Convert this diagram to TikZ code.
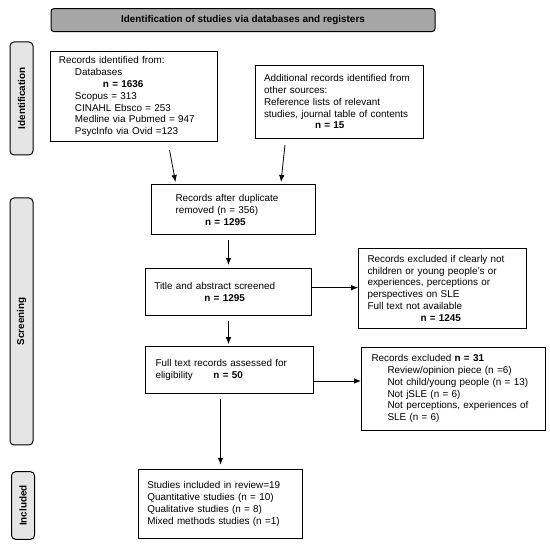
\documentclass[tikz,border=0pt]{standalone}
\usepackage{fontspec}
\setmainfont{Liberation Sans}
\usetikzlibrary{arrows.meta}
\begin{document}
\begin{tikzpicture}[x=1pt,y=-1pt,
        font=\fontsize{9.9}{11.8}\selectfont,
        box/.style={draw,line width=1pt,align=left,inner ysep=0pt},
        phase/.style={draw,line width=1pt,rounded corners=4pt,fill=black!10,rotate=90,
                font=\fontsize{9.9}{11.8}\selectfont\bfseries,minimum height=23pt,inner sep=0pt},
        arr/.style={-{Latex[length=7pt,width=5.5pt]},line width=0.8pt}]
        \useasboundingbox (0,0) rectangle (550,548);
        \node[draw,line width=1pt,rounded corners=3pt,fill=black!35,minimum width=384pt,minimum height=23pt,
                font=\fontsize{9.9}{11.8}\selectfont\bfseries] (title) at (243,20.1)
                {Identification of studies via databases and registers};
        \node[phase,minimum width=113pt] (ident) at (21.5,98.5) {Identification};
        \node[phase,minimum width=247pt] (screen) at (21.5,321.5) {Screening};
        \node[phase,minimum width=67.6pt] (incl) at (23,505.5) {Included};
        \node[box,inner xsep=9pt,text width=149pt,minimum height=90pt] (recdb) at (133.5,96.7)
                {Records identified from:\\
                \hspace*{16pt}Databases\\
                \hspace*{44pt}\textbf{n = 1636}\\
                \hspace*{16pt}Scopus = 313\\
                \hspace*{16pt}CINAHL Ebsco = 253\\
                \hspace*{16pt}Medline via Pubmed = 947\\
                \hspace*{16pt}PsycInfo via Ovid =123};
        \node[box,inner xsep=9pt,text width=150pt,minimum height=73.3pt] (recother) at (339,101.7)
                {Additional records identified from\\
                other sources:\\
                Reference lists of relevant\\
                studies, journal table of contents\\
                \hspace*{51pt}\textbf{n = 15}\\[2pt]};
        \node[box,inner xsep=24.4pt,text width=116pt,minimum height=50pt] (dedup) at (233.5,210)
                {Records after duplicate\\
                removed (n = 356)\\
                \hspace*{29.6pt}\textbf{n = 1295}\\[2pt]};
        \node[box,inner xsep=9pt,text width=148.3pt,minimum height=46.7pt] (screened) at (228.5,291.7)
                {Title and abstract screened\\
                \hspace*{50pt}\textbf{n = 1295}\\[10pt]};
        \node[box,inner xsep=8.8pt,text width=150pt,minimum height=80pt] (excla) at (442.5,288.3)
                {Records excluded if clearly not\\
                children or young people's or\\
                experiences, perceptions or\\
                perspectives on SLE\\
                Full text not available\\
                \hspace*{53pt}\textbf{n = 1245}};
        \node[box,inner xsep=9.8pt,text width=148pt,minimum height=47.3pt] (fulltext) at (229.5,370.3)
                {Full text records assessed for\\
                \makebox[58pt][l]{eligibility}\textbf{n = 50}};
        \node[box,inner xsep=10pt,text width=163.5pt,minimum height=82.7pt] (exclb) at (453.3,388.7)
                {Records excluded \textbf{n = 31}\\
                \hspace*{16pt}Review/opinion piece (n =6)\\
                \hspace*{16pt}Not child/young people (n = 13)\\
                \hspace*{16pt}Not jSLE (n = 6)\\
                \hspace*{16pt}Not perceptions, experiences of\\
                \hspace*{16pt}SLE (n = 6)};
        \node[box,inner xsep=8.8pt,text width=146.4pt,minimum height=69pt] (studies) at (220.5,503.8)
                {Studies included in review=19\\
                Quantitative studies (n = 10)\\
                Qualitative studies (n = 8)\\
                Mixed methods studies (n =1)};
        \coordinate (dbs) at (169.5,150);
        \coordinate (dbe) at (175.5,182);
        \coordinate (ots) at (285,145);
        \coordinate (ote) at (281,182);
        \draw[arr] (dbs) -- (dbe);
        \draw[arr] (ots) -- (ote);
        \draw[arr,shorten <=5pt,shorten >=3pt] (dedup.south -| screened.north) -- (screened.north);
        \draw[arr] ([yshift=4pt]screened.east) -- ([yshift=4pt]screened.east -| excla.west);
        \draw[arr,shorten <=5pt,shorten >=2pt] (screened.south) -- (screened.south |- fulltext.north);
        \draw[arr] ([yshift=-10.7pt]fulltext.east) -- ([yshift=-10.7pt]fulltext.east -| exclb.west);
        \draw[arr,shorten <=5pt,shorten >=4pt] (studies.north |- fulltext.south) -- (studies.north);
\end{tikzpicture}
\end{document}
